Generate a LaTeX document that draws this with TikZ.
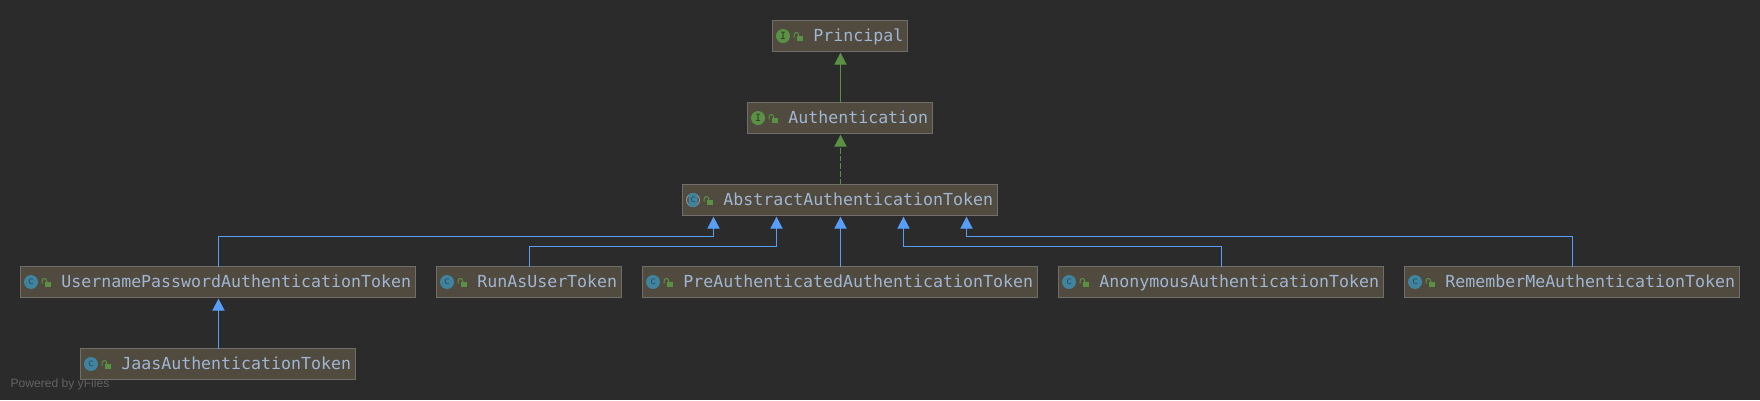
\documentclass[tikz,border=0pt]{standalone}
\usepackage{fontspec}
\setmonofont{DejaVu Sans Mono}
\setsansfont{Liberation Sans}
\usetikzlibrary{arrows.meta}
\definecolor{bgc}{HTML}{2B2B2B}
\definecolor{boxfill}{HTML}{504A3F}
\definecolor{boxline}{HTML}{6F6E69}
\definecolor{txtc}{HTML}{A0B6D2}
\definecolor{grn}{HTML}{5A9145}
\definecolor{blu}{HTML}{589DF6}
\definecolor{teal}{HTML}{40839F}
\definecolor{glyphg}{HTML}{2F3A2A}
\definecolor{glyphc}{HTML}{24505F}
\definecolor{wm}{HTML}{626262}
\tikzset{
  x=1pt,y=-1pt,
  boxnode/.style={draw=boxline,fill=boxfill,line width=1pt,inner sep=0pt,outer sep=0pt,minimum height=31pt,
    text height=14pt,text depth=3pt,text=txtc,font=\ttfamily\fontsize{16.6pt}{18pt}\selectfont},
  icontext/.style={inner sep=0pt,font=\ttfamily\fontsize{10pt}{10pt}\selectfont},
  impl/.style={draw=grn,line width=1.3pt,-{Triangle[width=12.2pt,length=12pt,fill=grn]},shorten >=1.2pt},
  implD/.style={impl,dash pattern=on 5.7pt off 2pt},
  inh/.style={draw=blu,line width=1.3pt,-{Triangle[width=12.2pt,length=12pt,fill=blu]}},
}
% name, left, right, top, icon macro, text
\newcommand{\umlbox}[6]{%
  \pgfmathsetmacro{\bw}{#3-#2}%
  \pgfmathsetmacro{\cx}{(#2+#3)/2}%
  \pgfmathsetmacro{\cy}{#4+15.5}%
  \node[boxnode,minimum width=\bw pt] (#1) at (\cx,\cy) {\makebox[\bw pt][l]{\hspace*{40.8pt}#6}};
  \lockicon{#1}
  #5{#1}
}
\newcommand{\lockicon}[1]{%
  \fill[grn] ([xshift=24pt,yshift=0.3pt]#1.west) rectangle ([xshift=30.2pt,yshift=-5pt]#1.west);
  \draw[grn,line width=1pt] ([xshift=21.6pt,yshift=-1.5pt]#1.west) -- ++(0,-2.7) arc[start angle=180,end angle=0,radius=2.3pt] -- ++(0,2);
}
\newcommand{\ifaceicon}[1]{%
  \fill[grn] ([xshift=10.5pt]#1.west) circle[radius=7pt];
  \node[icontext,text=glyphg] (#1-ic) at ([xshift=10.5pt]#1.west) {I};
}
\newcommand{\classicon}[1]{%
  \fill[teal] ([xshift=10.5pt]#1.west) circle[radius=7pt];
  \node[icontext,text=glyphc] (#1-ic) at ([xshift=10.5pt]#1.west) {c};
}
\newcommand{\absicon}[1]{%
  \draw[gray!85,line width=1pt] ([xshift=10.5pt]#1.west) circle[radius=6.5pt];
  \fill[teal,rounded corners=3pt] ([xshift=6pt,yshift=-7pt]#1.west) rectangle ([xshift=15pt,yshift=7pt]#1.west);
  \node[icontext,text=glyphc] (#1-ic) at ([xshift=10.5pt]#1.west) {c};
}
\begin{document}
\begin{tikzpicture}
\fill[bgc] (0,0) rectangle (1760,400);
\useasboundingbox (0,0) rectangle (1760,400);
\umlbox{principal}{772.5}{907.5}{20.5}{\ifaceicon}{Principal}
\umlbox{auth}{747.5}{932.5}{102.5}{\ifaceicon}{Authentication}
\umlbox{abstract}{682.5}{997.5}{184.5}{\absicon}{AbstractAuthenticationToken}
\umlbox{upat}{20.5}{415.5}{266.5}{\classicon}{UsernamePasswordAuthenticationToken}
\umlbox{runas}{436.5}{621.5}{266.5}{\classicon}{RunAsUserToken}
\umlbox{preauth}{642.5}{1037.5}{266.5}{\classicon}{PreAuthenticatedAuthenticationToken}
\umlbox{anon}{1058.5}{1383.5}{266.5}{\classicon}{AnonymousAuthenticationToken}
\umlbox{remember}{1404.5}{1739.5}{266.5}{\classicon}{RememberMeAuthenticationToken}
\umlbox{jaas}{80.5}{355.5}{348.5}{\classicon}{JaasAuthenticationToken}
\coordinate (p1) at (713.5,216.7);
\coordinate (p2) at (776.5,216.7);
\coordinate (p3) at (840.5,216.7);
\coordinate (p4) at (903.5,216.7);
\coordinate (p5) at (966.5,216.7);
\draw[impl] ([xshift=.5pt]auth.north) -- ([xshift=.5pt]principal.south);
\draw[implD] ([xshift=.5pt]abstract.north) -- ([xshift=.5pt]auth.south);
\draw[inh] ([xshift=.5pt]upat.north) |- ([yshift=-19.8pt]p1) -- (p1);
\draw[inh] ([xshift=.5pt]runas.north) |- ([yshift=-29.8pt]p2) -- (p2);
\draw[inh] (preauth.north -| p3) -- (p3);
\draw[inh] ([xshift=.5pt]anon.north) |- ([yshift=-29.8pt]p4) -- (p4);
\draw[inh] ([xshift=.5pt]remember.north) |- ([yshift=-19.8pt]p5) -- (p5);
\draw[inh,shorten >=1.2pt] ([xshift=.5pt]jaas.north) -- ([xshift=.5pt]upat.south);
\node[anchor=base west,inner sep=0pt,text=wm,font=\sffamily\fontsize{12.1pt}{14pt}\selectfont] (wmark) at (10.3,387.5) {Powered by yFiles};
\end{tikzpicture}
\end{document}
